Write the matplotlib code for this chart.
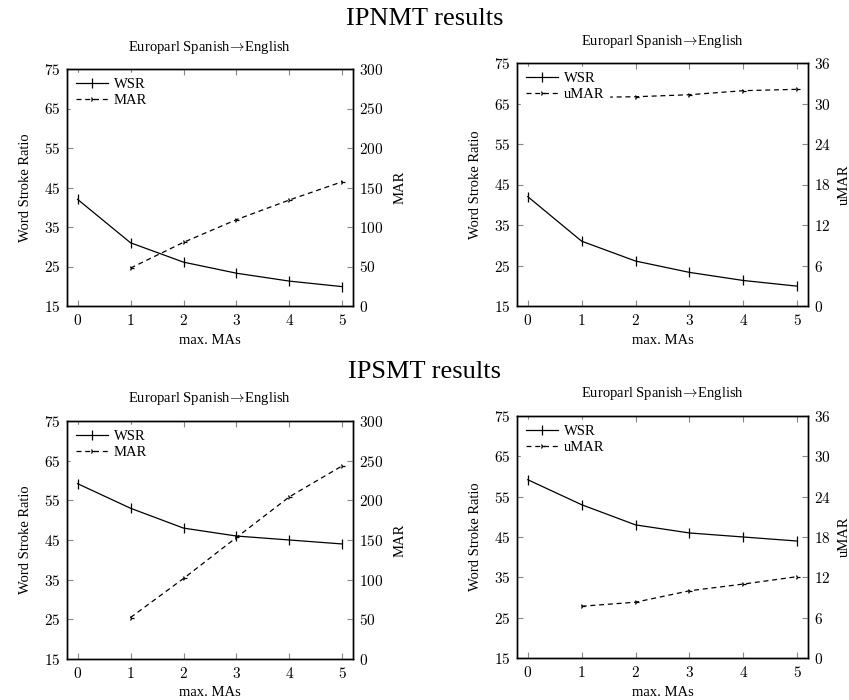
import matplotlib
matplotlib.use("Agg")
import matplotlib.pyplot as plt

plt.rcParams["font.family"] = ["Liberation Serif", "DejaVu Serif"]
plt.rcParams["axes.formatter.use_mathtext"] = True
plt.rcParams["mathtext.fontset"] = "cm"

max_mas = [0, 1, 2, 3, 4, 5]
max_mas_ma = [1, 2, 3, 4, 5]

# IPNMT
ipnmt_wsr = [42.0, 31.0, 26.1, 23.3, 21.3, 19.9]
ipnmt_mar = [48, 80.6, 109.3, 134.2, 157.4]
ipnmt_umar = [30.9, 31.0, 31.3, 31.9, 32.1]

# IPSMT
ipsmt_wsr = [59.2, 53.0, 48.0, 46.0, 45.0, 44.0]
ipsmt_mar = [52.3, 101.5, 153.2, 204.5, 243.6]
ipsmt_umar = [7.7, 8.3, 10.0, 11.0, 12.1]

wsr_ticks = [15, 25, 35, 45, 55, 65, 75]
mar_ticks = [0, 50, 100, 150, 200, 250, 300]
umar_ticks = [0, 6, 12, 18, 24, 30, 36]

subtitle = "Europarl Spanish$\\!\\rightarrow\\!$English"


def panel(fig, rect, wsr, ma_vals, ma_name, ma_ticks, rpad):
    ax = fig.add_axes(rect)
    ax2 = ax.twinx()

    l1, = ax.plot(max_mas, wsr, color="black", lw=0.9,
                  marker="|", markersize=7, mew=0.9, label="WSR")
    l2, = ax2.plot(max_mas_ma, ma_vals, color="black", lw=0.9,
                   ls=(0, (4, 3)), marker="4", markersize=4, mew=0.9,
                   label=ma_name)

    ax.set_xlim(-0.2, 5.2)
    ax.set_ylim(15, 75)
    ax2.set_ylim(ma_ticks[0], ma_ticks[-1])
    ax.set_xticks(max_mas)
    ax.set_yticks(wsr_ticks)
    ax2.set_yticks(ma_ticks)

    ax.tick_params(direction="in", length=4, color="#888888",
                   labelsize=11, top=True, right=False, pad=5)
    ax2.tick_params(direction="in", length=4, color="#888888",
                    labelsize=11, pad=4)
    for lab in ax.get_xticklabels() + ax.get_yticklabels() + ax2.get_yticklabels():
        lab.set_fontfamily("cmr10")

    for a in (ax, ax2):
        for s in a.spines.values():
            s.set_linewidth(1.0)

    ax.set_xlabel("max. MAs", fontsize=10.5, labelpad=4)
    ax.set_ylabel("Word Stroke Ratio", fontsize=10.5, labelpad=8)
    ax2.set_ylabel(ma_name, fontsize=10.5, labelpad=rpad)

    ax2.legend(handles=[l1, l2], loc="upper left", fontsize=10.5,
               frameon=True, facecolor="white", edgecolor="white",
               framealpha=1, fancybox=False, handlelength=2.2,
               handletextpad=0.4, labelspacing=0.2,
               borderaxespad=0.3, borderpad=0.3)

    pos = ax.get_position()
    return ax, (pos.x0 + pos.x1) / 2


W, H = 849, 700
fig = plt.figure(figsize=(W / 100, H / 100), dpi=100)


def rect(left, top, right, bottom):
    return [left / W, 1 - bottom / H, (right - left) / W, (bottom - top) / H]


panels = [
    (rect(67, 69, 353, 306), ipnmt_wsr, ipnmt_mar, "MAR", mar_ticks, 8, 48),
    (rect(517, 63, 808, 306), ipnmt_wsr, ipnmt_umar, "uMAR", umar_ticks, 5, 42),
    (rect(67, 421, 353, 659), ipsmt_wsr, ipsmt_mar, "MAR", mar_ticks, 8, 399),
    (rect(517, 416, 808, 658), ipsmt_wsr, ipsmt_umar, "uMAR", umar_ticks, 5, 394),
]
for r, wsr, ma, name, ticks, rpad, sub_y in panels:
    ax, xc = panel(fig, r, wsr, ma, name, ticks, rpad)
    fig.text(xc, 1 - sub_y / H, subtitle, ha="center", va="center", fontsize=10.5)

fig.text(0.5, 1 - 19 / H, "IPNMT results", ha="center", va="center", fontsize=19)
fig.text(0.5, 1 - 372 / H, "IPSMT results", ha="center", va="center", fontsize=19)

fig.savefig("out.png", dpi=100)
